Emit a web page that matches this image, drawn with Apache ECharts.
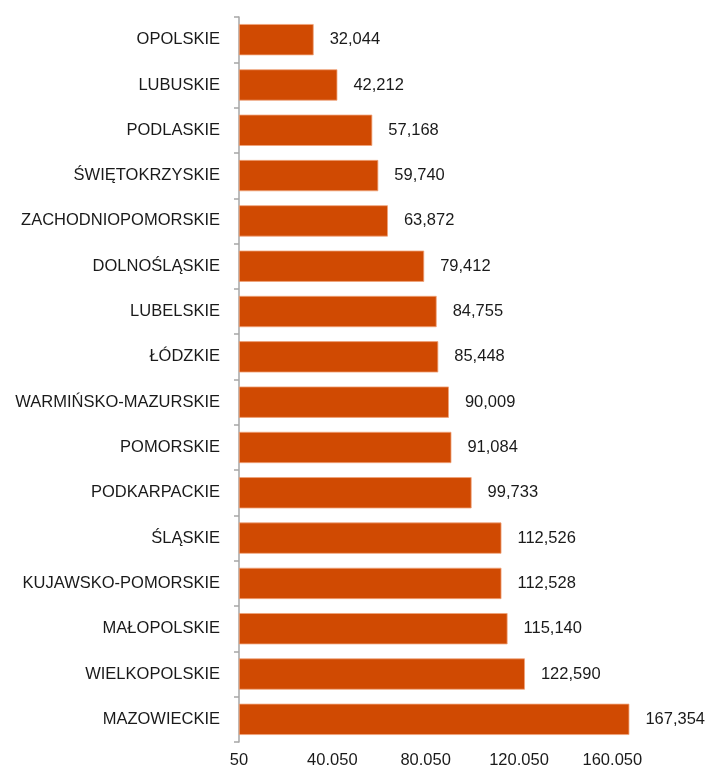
<!DOCTYPE html>
<html>
<head>
<meta charset="utf-8">
<script src="https://cdn.jsdelivr.net/npm/echarts@6/dist/echarts.min.js"></script>
<style>
  html, body { margin: 0; padding: 0; background: #fff; }
  #chart { width: 708px; height: 769px; }
</style>
</head>
<body>
<div id="chart"></div>
<script>
// Voivodeships, listed top to bottom
const regions = [
  'OPOLSKIE', 'LUBUSKIE', 'PODLASKIE', 'ŚWIĘTOKRZYSKIE', 'ZACHODNIOPOMORSKIE',
  'DOLNOŚLĄSKIE', 'LUBELSKIE', 'ŁÓDZKIE', 'WARMIŃSKO-MAZURSKIE', 'POMORSKIE',
  'PODKARPACKIE', 'ŚLĄSKIE', 'KUJAWSKO-POMORSKIE', 'MAŁOPOLSKIE', 'WIELKOPOLSKIE',
  'MAZOWIECKIE'
];
const values = [
  32044, 42212, 57168, 59740, 63872,
  79412, 84755, 85448, 90009, 91084,
  99733, 112526, 112528, 115140, 122590,
  167354
];
// Value axis scale
const axisMin = 50;
const axisMax = 180050;
const axisStep = 40000;

const fmtComma = v => v.toString().replace(/\B(?=(\d{3})+(?!\d))/g, ',');
const fmtDot = v => v.toString().replace(/\B(?=(\d{3})+(?!\d))/g, '.');

const FONT_SIZE = 16.5;
const TEXT_COLOR = '#1a1a1a';

const chart = echarts.init(document.getElementById('chart'));
chart.setOption({
  animation: false,
  textStyle: { fontFamily: 'Liberation Sans, Arial, sans-serif' },
  grid: { left: 239, right: 49, top: 17, bottom: 26, containLabel: false },
  xAxis: {
    type: 'value',
    min: axisMin,
    max: axisMax,
    interval: axisStep,
    axisLine: { show: false },
    axisTick: { show: false },
    splitLine: { show: false },
    axisLabel: {
      showMaxLabel: false,
      color: TEXT_COLOR,
      fontSize: FONT_SIZE,
      margin: 10,
      formatter: fmtDot
    }
  },
  yAxis: {
    type: 'category',
    data: regions,
    inverse: true,
    axisLine: { show: true, lineStyle: { color: '#a6a6a6', width: 1.5 } },
    axisTick: { show: true, length: 5, lineStyle: { color: '#a6a6a6', width: 1.5 } },
    axisLabel: { color: TEXT_COLOR, fontSize: FONT_SIZE, margin: 19 }
  },
  series: [{
    type: 'bar',
    data: values,
    barCategoryGap: '31%',
    itemStyle: { color: '#D04A02', borderColor: '#F0A37A', borderWidth: 0.8 },
    label: {
      show: true,
      position: 'right',
      distance: 16,
      color: TEXT_COLOR,
      fontSize: FONT_SIZE,
      formatter: p => fmtComma(p.value)
    }
  }]
});
</script>
</body>
</html>
